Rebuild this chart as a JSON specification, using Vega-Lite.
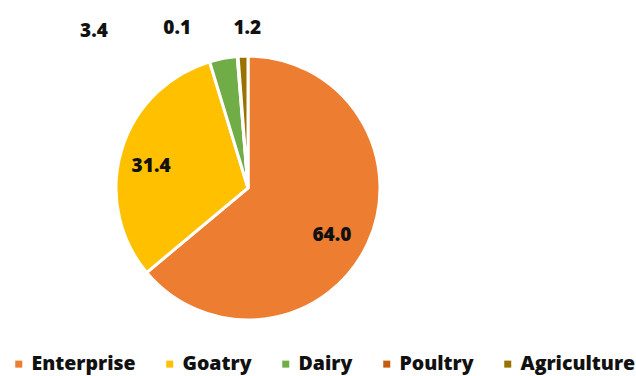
{
  "$schema": "https://vega.github.io/schema/vega-lite/v6.json",
  "autosize": "none",
  "width": 496,
  "height": 376,
  "padding": {"left": 0, "top": 0, "right": 140, "bottom": 0},
  "background": "white",
  "config": {"view": {"stroke": null}, "font": "Open Sans"},
  "data": {"values": [
    {"sector": "Enterprise", "value": 64.0, "label": "64.0", "rank": 1},
    {"sector": "Goatry", "value": 31.4, "label": "31.4", "rank": 2},
    {"sector": "Dairy", "value": 3.4, "label": "3.4", "rank": 3},
    {"sector": "Poultry", "value": 0.1, "label": "0.1", "rank": 4},
    {"sector": "Agriculture", "value": 1.2, "label": "1.2", "rank": 5}
  ]},
  "encoding": {
    "theta": {"field": "value", "type": "quantitative", "stack": true},
    "order": {"field": "rank", "type": "quantitative"}
  },
  "layer": [
    {
      "mark": {"type": "arc", "outerRadius": 132, "stroke": "white", "strokeWidth": 3},
      "encoding": {
        "color": {
          "field": "sector", "type": "nominal",
          "scale": {"domain": ["Enterprise", "Goatry", "Dairy", "Poultry", "Agriculture"],
                    "range": ["#ED7D31", "#FFC000", "#70AD47", "#C55A11", "#997300"]},
          "legend": {
            "title": null, "orient": "none", "direction": "horizontal",
            "legendX": 9, "legendY": 354,
            "symbolType": "square", "symbolSize": 49, "symbolStrokeWidth": 0,
            "labelFont": "Open Sans", "labelFontSize": 19.5, "labelFontWeight": 800, "labelColor": "#111111",
            "labelOffset": 3, "columnPadding": 24, "labelLimit": 300
          }
        }
      }
    },
    {
      "mark": {"type": "text", "radius": 97, "dx": -4, "dy": 6, "font": "Open Sans", "fontSize": 19, "fontWeight": 800, "color": "#111111"},
      "encoding": {
        "detail": {"field": "sector"},
        "text": {"condition": {"test": "datum.rank <= 2", "field": "label"}, "value": ""}
      }
    },
    {
      "mark": {"type": "text", "radius": 150, "dx": -126, "dy": -10, "font": "Open Sans", "fontSize": 19, "fontWeight": 800, "color": "#111111"},
      "encoding": {
        "detail": {"field": "sector"},
        "text": {"condition": {"test": "datum.sector === 'Dairy'", "field": "label"}, "value": ""}
      }
    },
    {
      "mark": {"type": "text", "radius": 150, "dx": -59, "dy": -10, "font": "Open Sans", "fontSize": 19, "fontWeight": 800, "color": "#111111"},
      "encoding": {
        "detail": {"field": "sector"},
        "text": {"condition": {"test": "datum.sector === 'Poultry'", "field": "label"}, "value": ""}
      }
    },
    {
      "mark": {"type": "text", "radius": 150, "dx": 5, "dy": -10, "font": "Open Sans", "fontSize": 19, "fontWeight": 800, "color": "#111111"},
      "encoding": {
        "detail": {"field": "sector"},
        "text": {"condition": {"test": "datum.sector === 'Agriculture'", "field": "label"}, "value": ""}
      }
    }
  ]
}
